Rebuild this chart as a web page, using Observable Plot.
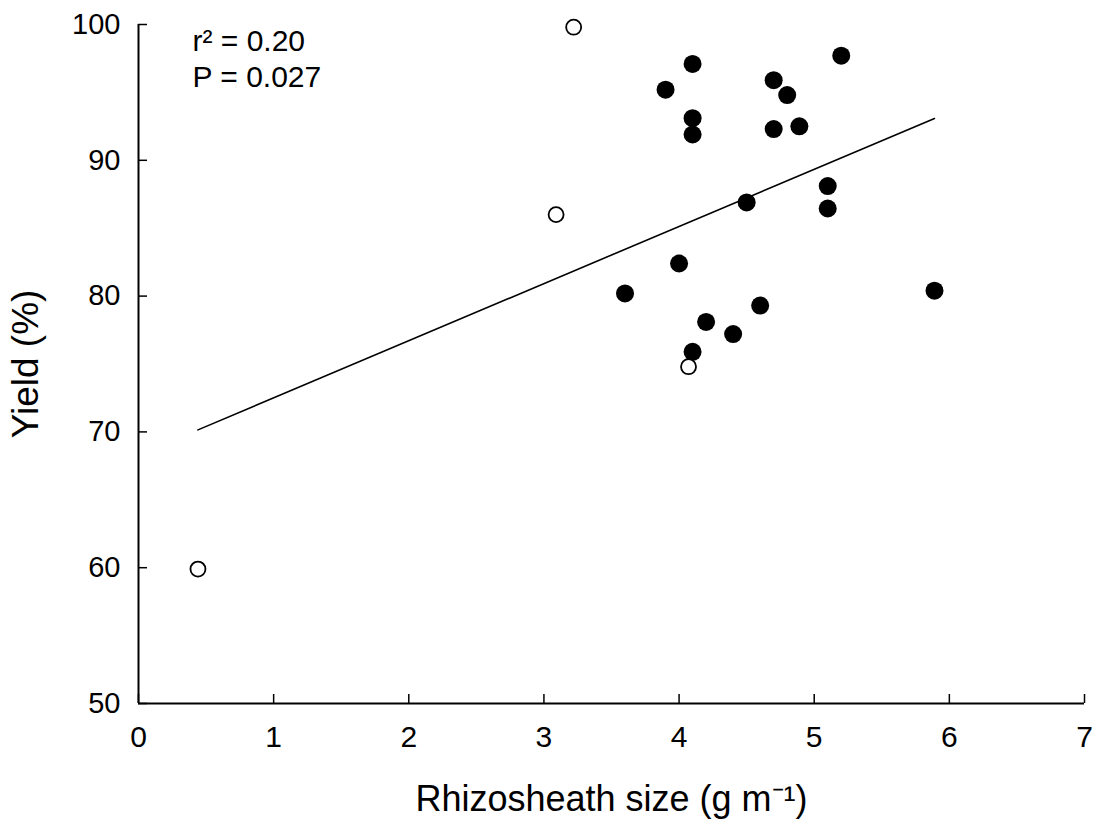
<!DOCTYPE html>
<html><head><meta charset="utf-8">
<script src="https://cdn.jsdelivr.net/npm/d3@7"></script>
<script src="https://cdn.jsdelivr.net/npm/@observablehq/plot@0.6"></script>
<style>
body{margin:0;background:#fff}
svg{font-family:"Liberation Sans",Arial,sans-serif}
</style>
</head><body><div id="chart"></div>
<script>
// Filled circles
const filledX = [3.60, 3.90, 4.00, 4.10, 4.10, 4.10, 4.10, 4.20, 4.40, 4.50, 4.60, 4.70, 4.70, 4.80, 4.89, 5.10, 5.10, 5.20, 5.89];
const filledY = [80.2, 95.2, 82.4, 97.1, 93.1, 91.9, 75.9, 78.1, 77.2, 86.9, 79.3, 95.9, 92.3, 94.8, 92.5, 88.1, 86.45, 97.7, 80.4];
// Open circles
const openX = [0.44, 3.09, 3.22, 4.07];
const openY = [59.9, 86.0, 99.8, 74.8];
// Fitted regression line (end points)
const fitX = [0.44, 5.89];
const fitY = [70.15, 93.08];
const xTicks = [0, 1, 2, 3, 4, 5, 6, 7];
const yTicks = [50, 60, 70, 80, 90, 100];
const annotation = ["r² = 0.20", "P = 0.027"];
const xTitle = "Rhizosheath size (g m⁻¹)";
const yTitle = "Yield (%)";

const filled = filledX.map((x, i) => ({x, y: filledY[i]}));
const open = openX.map((x, i) => ({x, y: openY[i]}));
const fit = fitX.map((x, i) => ({x, y: fitY[i]}));

const chart = Plot.plot({
  width: 1094,
  height: 825,
  marginLeft: 138,
  marginRight: 10,
  marginTop: 24,
  marginBottom: 122,
  style: {fontFamily: '"Liberation Sans", Arial, sans-serif', color: "black", background: "white"},
  x: {domain: [0, 7]},
  y: {domain: [50, 100]},
  marks: [
    Plot.axisX({ticks: xTicks, tickFormat: "d", tickSize: -9, tickPadding: 31, fontSize: 30, label: null, strokeWidth: 1.5}),
    Plot.axisY({ticks: yTicks, tickFormat: "d", tickSize: -9, tickPadding: 27, fontSize: 29, label: null, strokeWidth: 1.5}),
    Plot.axisY({ticks: [], label: yTitle, labelAnchor: "center", labelArrow: false, labelOffset: 127, fontSize: 37}),
    Plot.ruleX([0], {stroke: "black", strokeWidth: 2}),
    Plot.ruleY([50], {stroke: "black", strokeWidth: 2}),
    Plot.line(fit, {x: "x", y: "y", stroke: "black", strokeWidth: 1.6}),
    Plot.dot(filled, {x: "x", y: "y", r: 9, fill: "black", stroke: "none"}),
    Plot.dot(open, {x: "x", y: "y", r: 7.5, fill: "white", stroke: "black", strokeWidth: 1.8}),
    Plot.text([annotation.join("\n")], {frameAnchor: "top-left", dx: 54, dy: 2, textAnchor: "start", lineAnchor: "top", lineHeight: 1.17, fontSize: 30, fill: "black"}),
    Plot.text([xTitle], {frameAnchor: "bottom", dy: 107, lineAnchor: "bottom", fontSize: 36, fill: "black"})
  ]
});
document.getElementById("chart").appendChild(chart);
</script>
</body></html>
